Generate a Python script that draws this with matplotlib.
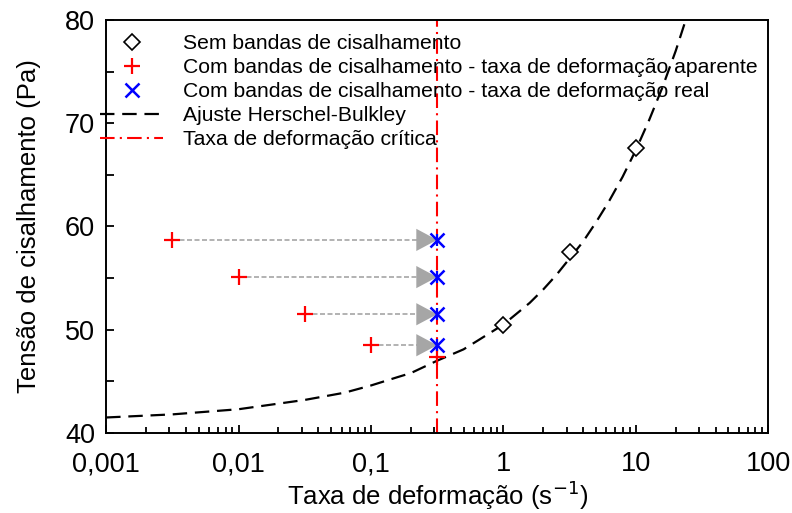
import matplotlib
matplotlib.use('Agg')
import matplotlib.pyplot as plt
from matplotlib.ticker import LogLocator, NullFormatter, MultipleLocator

plt.rcParams['font.family'] = ['Liberation Sans', 'DejaVu Sans']

# sem bandas de cisalhamento
sem_x = [1, 3.16, 10]
sem_y = [50.5, 57.5, 67.6]

# com bandas - taxa aparente
apar_x = [0.00316, 0.01, 0.0316, 0.1, 0.316]
apar_y = [58.7, 55.1, 51.5, 48.5, 47.4]

# com bandas - taxa real (na taxa critica)
real_x = [0.316, 0.316, 0.316, 0.316]
real_y = [58.7, 55.1, 51.5, 48.5]

# ajuste Herschel-Bulkley
hb_x = [0.001, 0.00316, 0.01, 0.0316, 0.0631, 0.1, 0.158, 0.2, 0.316, 0.5, 0.631,
        1, 1.58, 2, 2.51, 3.16, 3.98, 5, 6.31, 7.94, 10, 12.6, 15.8, 20, 25.1, 31.6]
hb_y = [41.5, 41.8, 42.3, 43.2, 43.9, 44.6, 45.4, 45.8, 47.0, 48.1, 48.9,
        50.5, 52.6, 53.9, 55.3, 56.9, 58.5, 60.4, 62.5, 64.8, 67.4, 70.3, 73.4, 77.0, 80.9, 85.2]

taxa_critica = 0.316

xticks = [0.001, 0.01, 0.1, 1, 10, 100]
xtick_labels = ['0,001', '0,01', '0,1', '1', '10', '100']
yticks = [40, 50, 60, 70, 80]

GRAY = '#a6a6a6'

fig = plt.figure(figsize=(7.92, 5.13), dpi=100)
ax = fig.add_axes([0.134, 0.156, 0.836, 0.805])

ax.plot(hb_x, hb_y, color='black', lw=1.6, dashes=(6.5, 3.5), zorder=2,
        label='Ajuste Herschel-Bulkley')
ax.axvline(taxa_critica, color='red', lw=1.5, dashes=(7, 2.5, 1, 2.5), zorder=1,
           label='Taxa de deformação crítica')

# setas: aparente -> real
for xa, ya, xr, yr in zip(apar_x, apar_y, real_x, real_y):
    ax.plot([xa, xr / 1.25], [ya, yr], color=GRAY, lw=1.2, dashes=(3, 1.5), zorder=3)
    ax.annotate('', xy=(xr, yr), xytext=(xr / 1.3, yr),
                arrowprops=dict(arrowstyle='-|>,head_length=0.75,head_width=0.4',
                                color=GRAY, lw=0, shrinkA=0, shrinkB=0,
                                mutation_scale=20),
                zorder=3)

ax.plot(sem_x, sem_y, ls='none', marker='D', markersize=8, mfc='white', mec='black',
        mew=1.2, zorder=4, label='Sem bandas de cisalhamento')
ax.plot(apar_x, apar_y, ls='none', marker='+', markersize=12, color='red', mew=1.6,
        zorder=4, label='Com bandas de cisalhamento - taxa de deformação aparente')
ax.plot(real_x, real_y, ls='none', marker='|', markersize=9, color='blue', mew=1.6, zorder=5)
ax.plot(real_x, real_y, ls='none', marker='x', markersize=10, color='blue', mew=1.8,
        zorder=5, label='Com bandas de cisalhamento - taxa de deformação real')

ax.set_xscale('log')
ax.set_xlim(0.001, 100)
ax.set_ylim(40, 80)
ax.set_xticks(xticks, xtick_labels)
ax.xaxis.set_minor_locator(LogLocator(base=10, subs=range(2, 10), numticks=20))
ax.xaxis.set_minor_formatter(NullFormatter())
ax.set_yticks(yticks)
ax.yaxis.set_minor_locator(MultipleLocator(5))

ax.tick_params(which='both', direction='in', top=False, right=False, width=1.3,
               labelsize=19.5)
ax.tick_params(which='major', length=6)
ax.tick_params(axis='x', which='major', pad=13)
ax.tick_params(axis='y', which='major', pad=8)
ax.tick_params(which='minor', length=4)
ax.tick_params(axis='y', which='minor', length=6)
for s in ax.spines.values():
    s.set_linewidth(1.4)

ax.set_xlabel('Taxa de deformação (s$^{-1}$)', fontsize=18.5, labelpad=1)
ax.set_ylabel('Tensão de cisalhamento (Pa)', fontsize=18.5, labelpad=17)

handles, labels = ax.get_legend_handles_labels()
order = ['Sem bandas de cisalhamento',
         'Com bandas de cisalhamento - taxa de deformação aparente',
         'Com bandas de cisalhamento - taxa de deformação real',
         'Ajuste Herschel-Bulkley',
         'Taxa de deformação crítica']
hmap = dict(zip(labels, handles))
leg = ax.legend([hmap[k] for k in order], order, loc='upper left',
                bbox_to_anchor=(100 / 792, 1 - 34 / 513), bbox_transform=fig.transFigure,
                frameon=False, fontsize=15.2, handlelength=3.0, handletextpad=0.95,
                labelspacing=0.24, borderpad=0, borderaxespad=0)
leg.set_zorder(6)

fig.savefig('out.png', dpi=100)
